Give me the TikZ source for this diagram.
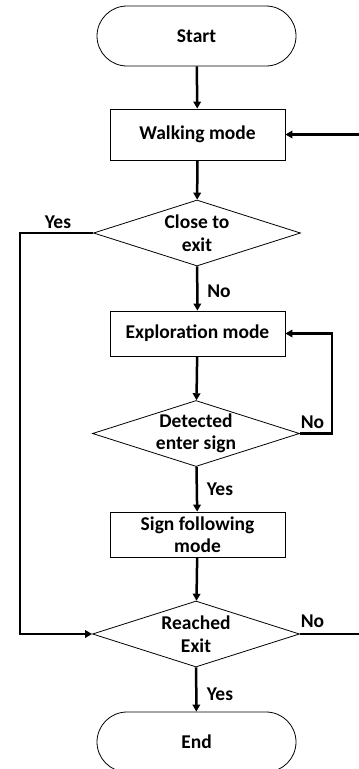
\documentclass[tikz,border=0pt]{standalone}
\usepackage{fontspec}
\setmainfont{Carlito}
\usetikzlibrary{shapes.geometric,arrows.meta}
\begin{document}
\begin{tikzpicture}[x=1pt,y=-1pt,
  font=\bfseries\fontsize{19.5}{22.5}\selectfont,
  term/.style={draw, line width=0.8pt, rounded corners=30pt, minimum width=199pt, minimum height=60pt, inner sep=0pt},
  proc/.style={draw, line width=0.8pt, minimum width=175pt, inner sep=0pt, align=center},
  dec/.style={draw, line width=0.8pt, diamond, aspect=3.15, minimum width=207pt, minimum height=66pt, inner sep=0pt, align=center},
  conn/.style={line width=2.5pt, -{Triangle[length=7pt,width=7.5pt]}},
  lbl/.style={inner sep=0pt}]
\clip (0,0) rectangle (359,769);
\node[term] (start) at (196.5,36) {Start};
\node[proc, minimum height=51pt] (walk) at (197.5,134.5) {Walking mode};
\node[dec] (d1) at (197,233) {Close to\\exit};
\node[proc, minimum height=45pt] (expl) at (197.5,333.5) {Exploration mode};
\node[dec] (d2) at (196,433.5) {Detected\\enter sign};
\node[proc, minimum height=45pt] (sign) at (197.5,534.5) {Sign following\\mode};
\node[dec] (d3) at (196,634) {Reached\\Exit};
\node[term] (end) at (196.5,742) {End};
\coordinate (lx) at (20,233);
\coordinate (lp) at (332,433.5);
\coordinate (rr) at (375,634);
\draw[conn] (start) -- (walk);
\draw[conn] (walk) -- (d1);
\draw[conn] (d1) -- (expl);
\draw[conn] (expl) -- (d2);
\draw[conn] (d2) -- (sign);
\draw[conn] (sign) -- (d3);
\draw[conn] (d3) -- (end);
\draw[conn] (d1.west) -- (lx) |- (d3.west);
\draw[conn] (d2.east) -- (lp) |- (expl.east);
\draw[conn] (d3.east) -- (rr) |- (walk.east);
\node[lbl] (y1) at (58,222) {Yes};
\node[lbl] (n1) at (219,291) {No};
\node[lbl] (n2) at (312.5,422) {No};
\node[lbl] (y2) at (220,489) {Yes};
\node[lbl] (n3) at (312.5,621) {No};
\node[lbl] (y3) at (220,694) {Yes};
\end{tikzpicture}
\end{document}
